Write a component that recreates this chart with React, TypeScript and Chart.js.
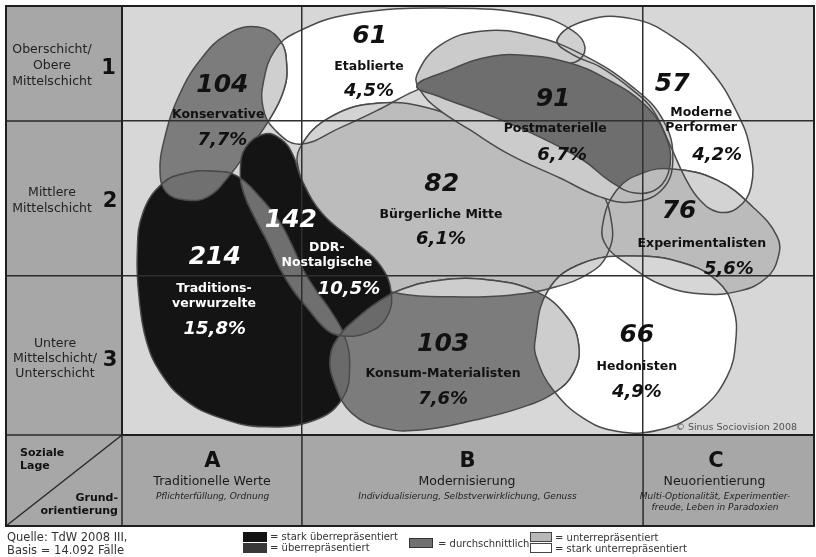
import React, { useEffect, useRef } from 'react';
import { Chart, registerables, LineController } from 'chart.js';

type Pt = [number, number];

// ---------- axes: Soziale Lage (y) / Grundorientierung (x) ----------
const xColumnBounds = [0, 26.0, 75.3, 100];
const yRowBounds = [0, 37.1, 73.2, 100];

const socialClassLabels = [
  ['Oberschicht/', 'Obere', 'Mittelschicht'],
  ['Mittlere', 'Mittelschicht'],
  ['Untere', 'Mittelschicht/', 'Unterschicht'],
];
const socialClassNumbers = ['1', '2', '3'];
const orientationLetters = ['A', 'B', 'C'];
const orientationTitles = ['Traditionelle Werte', 'Modernisierung', 'Neuorientierung'];
const orientationSubtitles = [
  ['Pflichterfüllung, Ordnung'],
  ['Individualisierung, Selbstverwirklichung, Genuss'],
  ['Multi-Optionalität, Experimentier-', 'freude, Leben in Paradoxien'],
];
const cornerLabels = { top: ['Soziale', 'Lage'], bottom: ['Grund-', 'orientierung'] };
const sourceNote = ['Quelle: TdW 2008 III,', 'Basis = 14.092 Fälle'];
const legendLabels = ['= stark überrepräsentiert', '= überrepräsentiert', '= durchschnittlich', '= unterrepräsentiert', '= stark unterrepräsentiert'];
const copyright = '© Sinus Sociovision 2008';

// ---------- milieu labels ----------
const milieuNames = ['Konservative', 'Etablierte', 'Postmaterielle', 'Moderne\nPerformer', 'Bürgerliche Mitte', 'Experimentalisten', 'DDR-\nNostalgische', 'Traditions-\nverwurzelte', 'Konsum-Materialisten', 'Hedonisten'];
const milieuCounts = [104, 61, 91, 57, 82, 76, 142, 214, 103, 66];
const milieuShares = ['7,7%', '4,5%', '6,7%', '4,2%', '6,1%', '5,6%', '10,5%', '15,8%', '7,6%', '4,9%'];
const countPositions: Pt[] = [[14.5, 81.4], [35.8, 92.8], [62.3, 78.1], [79.5, 81.6], [46.2, 58.5], [80.5, 52.0], [24.4, 50.1], [13.4, 41.3], [46.4, 21.2], [74.4, 23.3]];
const namePositions: Pt[] = [[13.9, 74.6], [35.7, 85.8], [62.6, 71.3], [83.7, 73.3], [46.1, 51.3], [83.8, 44.5], [29.6, 42.0], [13.3, 32.3], [46.4, 14.2], [74.4, 15.9]];
const sharePositions: Pt[] = [[14.5, 68.8], [35.7, 80.0], [63.6, 65.3], [86.0, 65.3], [46.1, 45.5], [87.7, 38.7], [32.8, 34.0], [13.4, 24.7], [46.4, 8.4], [74.4, 10.0]];
const whiteLabel = [false, false, false, false, false, false, true, true, false, false];

// ---------- milieu outlines (x: Grundorientierung 0-100, y: Soziale Lage 0-100) ----------
const etablierteShape: Pt[] = [[20.5, 82.8], [22.1, 89.7], [25.0, 93.7], [32.9, 98.1], [47.4, 99.5], [59.4, 97.9], [65.0, 94.4], [66.9, 90.4], [65.5, 86.9], [60.4, 86.9], [52.2, 85.8], [42.6, 80.4], [37.3, 76.0], [31.5, 71.6], [25.7, 67.8], [22.1, 71.1], [20.4, 76.2]];
const modernePerformerShape: Pt[] = [[62.9, 92.1], [67.2, 96.7], [73.8, 97.0], [79.6, 92.8], [85.0, 85.1], [88.9, 75.1], [90.8, 66.4], [90.9, 57.8], [88.9, 52.9], [86.1, 52.0], [83.5, 54.8], [81.4, 59.9], [79.2, 67.6], [76.7, 75.8], [73.8, 80.4], [69.1, 85.8], [65.2, 88.6]];
const buergerlicheMitteShape: Pt[] = [[25.7, 66.9], [30.1, 74.1], [37.3, 77.4], [45.2, 75.8], [52.5, 70.4], [61.1, 63.4], [68.6, 57.6], [70.8, 49.0], [70.1, 42.0], [67.6, 37.8], [62.6, 34.5], [56.1, 32.6], [48.1, 32.2], [40.2, 32.9], [36.6, 35.4], [31.5, 43.1], [27.5, 53.6], [25.6, 61.3]];
const postmaterielleHaloShape: Pt[] = [[42.6, 83.9], [46.0, 90.9], [52.2, 94.2], [59.4, 93.0], [66.6, 88.6], [73.8, 81.1], [78.2, 73.4], [79.6, 64.1], [78.0, 57.1], [73.7, 54.3], [69.1, 55.5], [63.3, 59.9], [56.1, 65.3], [50.3, 71.1], [45.5, 76.2], [43.1, 80.4]];
const postmaterielleShape: Pt[] = [[42.6, 81.4], [47.4, 85.1], [52.2, 87.9], [57.5, 88.6], [64.3, 86.9], [69.8, 83.2], [75.6, 76.9], [78.5, 69.9], [79.2, 62.9], [77.5, 57.6], [74.1, 56.4], [70.5, 59.2], [66.6, 64.1], [59.4, 70.2], [52.2, 75.1], [46.0, 78.8]];
const experimentalistenShape: Pt[] = [[69.4, 48.5], [71.5, 57.1], [75.3, 61.1], [79.6, 62.0], [86.0, 59.4], [91.2, 53.1], [94.7, 46.2], [94.8, 41.3], [93.1, 36.6], [89.3, 33.6], [83.5, 32.9], [77.7, 35.2], [73.0, 39.9], [70.1, 43.8]];
const hedonistenShape: Pt[] = [[59.7, 22.1], [61.6, 33.8], [66.6, 40.1], [73.8, 41.7], [81.1, 40.1], [86.0, 35.9], [88.3, 29.8], [88.7, 22.1], [87.4, 13.5], [83.5, 5.8], [77.7, 1.2], [71.5, 0.9], [66.6, 4.0], [62.3, 10.5], [60.0, 17.5]];
const konservativeShape: Pt[] = [[19.7, 95.1], [22.8, 92.1], [23.8, 86.2], [23.3, 80.0], [21.1, 73.0], [18.2, 66.4], [15.6, 60.6], [12.4, 55.5], [9.1, 54.8], [6.4, 56.6], [5.5, 61.3], [6.1, 68.8], [8.1, 78.6], [11.3, 87.4], [15.3, 93.5]];
const traditionsShape: Pt[] = [[5.9, 58.7], [9.4, 61.1], [13.2, 61.5], [16.6, 60.4], [20.2, 55.0], [22.8, 49.7], [24.7, 43.8], [26.2, 38.5], [28.0, 33.8], [30.1, 29.1], [32.1, 23.3], [32.9, 16.3], [31.9, 8.6], [27.9, 3.5], [20.7, 1.9], [14.2, 4.0], [9.1, 8.2], [5.5, 14.7], [3.5, 22.1], [2.5, 31.5], [2.2, 42.0], [3.0, 51.7]];
const ddrShape: Pt[] = [[20.7, 70.2], [23.1, 68.8], [24.7, 65.3], [26.0, 59.4], [28.9, 51.7], [33.7, 45.0], [37.3, 39.6], [38.9, 33.3], [38.2, 27.3], [35.4, 23.8], [31.9, 23.1], [29.6, 24.5], [26.7, 29.8], [24.7, 33.8], [22.8, 38.9], [21.1, 44.8], [19.2, 50.6], [17.6, 56.4], [17.1, 61.8], [17.9, 67.1]];
const konsumShape: Pt[] = [[36.8, 30.8], [40.2, 33.8], [46.0, 36.1], [53.2, 36.1], [60.0, 33.3], [64.3, 27.5], [66.0, 21.0], [65.3, 14.7], [62.6, 10.0], [57.9, 6.5], [51.0, 3.5], [43.5, 1.2], [37.7, 1.6], [33.2, 5.1], [30.8, 11.7], [30.1, 18.2], [31.5, 23.3], [34.0, 27.3]];

// drawing layers, bottom to top
const layers = [
  { key: 'etablierte', data: etablierteShape, color: '#ffffff' },
  { key: 'modernePerformer', data: modernePerformerShape, color: '#ffffff' },
  { key: 'buergerlicheMitte', data: buergerlicheMitteShape, color: '#bcbcbc' },
  { key: 'postmaterielleHalo', data: postmaterielleHaloShape, color: '#cbcbcb' },
  { key: 'postmaterielle', data: postmaterielleShape, color: '#6e6e6e' },
  { key: 'experimentalisten', data: experimentalistenShape, color: '#bbbbbb' },
  { key: 'hedonisten', data: hedonistenShape, color: '#ffffff' },
  { key: 'konservative', data: konservativeShape, color: '#7c7c7c' },
  { key: 'traditionsverwurzelte', data: traditionsShape, color: '#141414' },
  { key: 'ddrNostalgische', data: ddrShape, color: '#141414' },
  { key: 'konsumMaterialisten', data: konsumShape, color: '#7c7c7c' },
];

// [lower, upper, colour of the overlapping region]
const overlaps: [string, string, string][] = [
  ['etablierte', 'modernePerformer', '#d0d0d0'],
  ['etablierte', 'buergerlicheMitte', '#d3d3d3'],
  ['modernePerformer', 'experimentalisten', '#d3d3d3'],
  ['buergerlicheMitte', 'hedonisten', '#d3d3d3'],
  ['experimentalisten', 'hedonisten', '#d6d6d6'],
  ['etablierte', 'konservative', '#cfcfcf'],
  ['konservative', 'traditionsverwurzelte', '#707070'],
  ['traditionsverwurzelte', 'ddrNostalgische', '#6f6f6f'],
  ['buergerlicheMitte', 'konsumMaterialisten', '#cdcdcd'],
  ['hedonisten', 'konsumMaterialisten', '#cdcdcd'],
  ['traditionsverwurzelte', 'konsumMaterialisten', '#6a6a6a'],
  ['ddrNostalgische', 'konsumMaterialisten', '#6a6a6a'],
];
// outlines of lower shapes that stay visible inside upper shapes
const showThrough: [string, string][] = [
  ['etablierte', 'postmaterielleHalo'],
  ['modernePerformer', 'postmaterielleHalo'],
  ['modernePerformer', 'postmaterielle'],
  ['buergerlicheMitte', 'experimentalisten'],
  ['postmaterielleHalo', 'experimentalisten'],
  ['postmaterielle', 'experimentalisten'],
];

const OUTLINE = '#4a4a4a';
const FONT = '"DejaVu Sans", Verdana, sans-serif';
const FRAME_LEFT = 6;
const FRAME_BOTTOM = 526;

class LoopLineController extends LineController {
  static id = 'loopLine';
  update(mode: any) {
    super.update(mode);
    const line: any = (this as any)._cachedMeta.dataset;
    if (line) {
      line._loop = true;
      line._fullLoop = true;
      line._pointsUpdated = false;
      delete line._segments;
      delete line._path;
    }
  }
}

Chart.register(...registerables, LoopLineController as any);

const keyIndex = (k: string) => layers.findIndex((l) => l.key === k);

function shapePath(chart: any, idx: number): Path2D {
  const meta = chart.getDatasetMeta(idx);
  const p = new Path2D();
  meta.dataset.updateControlPoints(chart.chartArea, 'x');
  meta.dataset.path(p);
  p.closePath();
  return p;
}

const overlapPlugin = {
  id: 'overlaps',
  afterDatasetDraw(chart: any, args: any) {
    const upperKey = layers[args.index].key;
    const ctx: CanvasRenderingContext2D = chart.ctx;
    ctx.save();
    ctx.lineWidth = 1.5;
    ctx.strokeStyle = OUTLINE;
    ctx.lineJoin = 'round';
    for (const [lowerKey, uKey, color] of overlaps) {
      if (uKey !== upperKey) continue;
      const pl = shapePath(chart, keyIndex(lowerKey));
      const pu = shapePath(chart, args.index);
      ctx.save();
      ctx.clip(pl);
      ctx.fillStyle = color;
      ctx.fill(pu);
      ctx.stroke(pu);
      ctx.restore();
      ctx.save();
      ctx.clip(pu);
      ctx.stroke(pl);
      ctx.restore();
    }
    for (const [lowerKey, uKey] of showThrough) {
      if (uKey !== upperKey) continue;
      const pl = shapePath(chart, keyIndex(lowerKey));
      const pu = shapePath(chart, args.index);
      ctx.save();
      ctx.clip(pu);
      ctx.stroke(pl);
      ctx.restore();
    }
    ctx.restore();
  },
};

const framePlugin = {
  id: 'frame',
  beforeDraw(chart: any) {
    const { ctx, chartArea: a } = chart;
    ctx.save();
    ctx.fillStyle = '#ffffff';
    ctx.fillRect(0, 0, chart.width, chart.height);
    ctx.fillStyle = '#d7d7d7';
    ctx.fillRect(a.left, a.top, a.right - a.left, a.bottom - a.top);
    ctx.fillStyle = '#a7a7a7';
    ctx.fillRect(FRAME_LEFT, a.top, a.left - FRAME_LEFT, a.bottom - a.top);
    ctx.fillRect(FRAME_LEFT, a.bottom, a.right - FRAME_LEFT, FRAME_BOTTOM - a.bottom);
    ctx.restore();
  },
  afterDraw(chart: any) {
    const { ctx, chartArea: a, scales } = chart;
    ctx.save();
    ctx.strokeStyle = '#2a2a2a';
    ctx.lineWidth = 1.5;
    ctx.beginPath();
    for (const v of yRowBounds.slice(1, -1)) {
      const y = scales.y.getPixelForValue(v);
      ctx.moveTo(FRAME_LEFT, y);
      ctx.lineTo(a.left, y);
    }
    for (const v of xColumnBounds.slice(0, -1)) {
      const x = scales.x.getPixelForValue(v);
      ctx.moveTo(x, a.bottom);
      ctx.lineTo(x, FRAME_BOTTOM);
    }
    ctx.moveTo(FRAME_LEFT, a.bottom);
    ctx.lineTo(a.left, a.bottom);
    ctx.moveTo(FRAME_LEFT, FRAME_BOTTOM);
    ctx.lineTo(a.left, a.bottom);
    ctx.stroke();
    ctx.strokeStyle = '#1e1e1e';
    ctx.lineWidth = 2;
    ctx.strokeRect(FRAME_LEFT, a.top, a.right - FRAME_LEFT, FRAME_BOTTOM - a.top);
    ctx.restore();

    // milieu labels
    ctx.save();
    ctx.textAlign = 'center';
    ctx.textBaseline = 'middle';
    milieuNames.forEach((name, i) => {
      ctx.fillStyle = whiteLabel[i] ? '#ffffff' : '#111111';
      const sx = (p: Pt) => scales.x.getPixelForValue(p[0]);
      const sy = (p: Pt) => scales.y.getPixelForValue(p[1]);
      ctx.font = `italic bold 25px ${FONT}`;
      ctx.fillText(String(milieuCounts[i]), sx(countPositions[i]), sy(countPositions[i]));
      ctx.font = `bold 12.5px ${FONT}`;
      const lines = name.split('\n');
      const lh = 15;
      lines.forEach((ln, j) => {
        ctx.fillText(ln, sx(namePositions[i]), sy(namePositions[i]) + (j - (lines.length - 1) / 2) * lh);
      });
      ctx.font = `italic bold 18px ${FONT}`;
      ctx.fillText(milieuShares[i], sx(sharePositions[i]), sy(sharePositions[i]));
    });
    ctx.restore();
  },
};

function Txt(props: any) {
  const { x, y, size, children, weight = 400, italic = false, align = 'center', color = '#1e1e1e' } = props;
  const style: any = {
    position: 'absolute',
    top: y - 0.846 * size,
    fontSize: size,
    lineHeight: `${size}px`,
    fontWeight: weight,
    fontStyle: italic ? 'italic' : 'normal',
    color,
    whiteSpace: 'nowrap',
    fontFamily: FONT,
  };
  if (align === 'center') { style.left = x - 250; style.width = 500; style.textAlign = 'center'; }
  else if (align === 'right') { style.left = x - 500; style.width = 500; style.textAlign = 'right'; }
  else { style.left = x; }
  return <div style={style}>{children}</div>;
}

function Swatch({ x, y, w, h, bg, border }: any) {
  return <div style={{ position: 'absolute', left: x, top: y, width: w, height: h, background: bg, border: border ? `1px solid ${border}` : 'none', boxSizing: 'border-box' }} />;
}

export default function App() {
  const ref = useRef<HTMLCanvasElement | null>(null);

  useEffect(() => {
    if (!ref.current) return;
    const axisCommon = (bounds: number[]) => ({
      type: 'linear',
      min: 0,
      max: 100,
      ticks: { display: false },
      grid: { color: '#2f2f2f', lineWidth: 1.5, drawTicks: false, z: 1 },
      border: { display: true, color: '#1e1e1e', width: 2, z: 2 },
      afterBuildTicks: (s: any) => { s.ticks = bounds.map((v) => ({ value: v })); },
    });
    const chart = new Chart(ref.current, {
      type: 'loopLine' as any,
      data: {
        datasets: layers.map((l, i) => ({
          label: l.key,
          data: l.data.map(([x, y]) => ({ x, y })),
          backgroundColor: l.color,
          borderColor: OUTLINE,
          borderWidth: 1.5,
          borderJoinStyle: 'round',
          fill: 'shape',
          tension: 0.42,
          pointRadius: 0,
          pointHoverRadius: 0,
          order: layers.length - i,
        })) as any,
      },
      options: {
        responsive: false,
        animation: false,
        devicePixelRatio: 1,
        events: [],
        layout: { padding: { left: 122, top: 6, right: 2, bottom: 122 } },
        plugins: { legend: { display: false }, tooltip: { enabled: false }, filler: { propagate: false } } as any,
        scales: { x: axisCommon(xColumnBounds) as any, y: axisCommon(yRowBounds) as any },
      },
      plugins: [framePlugin, overlapPlugin] as any,
    });
    return () => chart.destroy();
  }, []);

  const rowBaselines = [[54, 70, 86], [197, 213], [348, 363, 378]];
  const rowCenters = [52, 52, 55];
  const numberPos = [[108.5, 75], [110, 208], [110, 367]];
  const colCenters = [212.5, 467.5, 715];

  return (
    <div style={{ position: 'absolute', left: 0, top: 0, width: 816, height: 557, background: '#fff', overflow: 'hidden', fontFamily: FONT }}>
      <canvas ref={ref} width={816} height={557} style={{ position: 'absolute', left: 0, top: 0, width: 816, height: 557 }} />

      {socialClassLabels.map((lines, r) => (
        <React.Fragment key={'r' + r}>
          {lines.map((ln, j) => (
            <Txt key={j} x={rowCenters[r]} y={rowBaselines[r][j]} size={12.5} color="#222">{ln}</Txt>
          ))}
          <Txt x={numberPos[r][0]} y={numberPos[r][1]} size={21} weight={700} color="#111">{socialClassNumbers[r]}</Txt>
        </React.Fragment>
      ))}

      <Txt x={20} y={456.5} size={11} weight={700} align="left" color="#111">{cornerLabels.top[0]}</Txt>
      <Txt x={20} y={469} size={11} weight={700} align="left" color="#111">{cornerLabels.top[1]}</Txt>
      <Txt x={118} y={501} size={11} weight={700} align="right" color="#111">{cornerLabels.bottom[0]}</Txt>
      <Txt x={118} y={514.5} size={11} weight={700} align="right" color="#111">{cornerLabels.bottom[1]}</Txt>

      {orientationLetters.map((L, c) => (
        <React.Fragment key={'c' + c}>
          <Txt x={colCenters[c] + (c === 2 ? 1 : 0)} y={467.5} size={21} weight={700} color="#111">{L}</Txt>
          <Txt x={colCenters[c] - 0.5} y={486} size={12.5} color="#1a1a1a">{orientationTitles[c]}</Txt>
          {orientationSubtitles[c].map((s, j) => (
            <Txt key={j} x={colCenters[c]} y={500 + j * 10.5} size={9} italic color="#222">{s}</Txt>
          ))}
        </React.Fragment>
      ))}

      <Txt x={797} y={430} size={9.5} align="right" color="#505050">{copyright}</Txt>

      <Txt x={7} y={541.5} size={11.5} align="left" color="#333">{sourceNote[0]}</Txt>
      <Txt x={7} y={555} size={11.5} align="left" color="#333">{sourceNote[1]}</Txt>

      <Swatch x={243} y={531.5} w={24} h={10.5} bg="#111" />
      <Swatch x={243} y={543} w={24} h={10} bg="#383838" />
      <Txt x={270} y={540.5} size={10} align="left" color="#333">{legendLabels[0]}</Txt>
      <Txt x={270} y={551.5} size={10} align="left" color="#333">{legendLabels[1]}</Txt>

      <Swatch x={409} y={538} w={24} h={10} bg="#707070" border="#333" />
      <Txt x={438} y={547} size={10} align="left" color="#333">{legendLabels[2]}</Txt>

      <Swatch x={530} y={532} w={22} h={10} bg="#b8b8b8" border="#444" />
      <Swatch x={530} y={543} w={22} h={10} bg="#ffffff" border="#444" />
      <Txt x={555} y={541} size={10} align="left" color="#333">{legendLabels[3]}</Txt>
      <Txt x={555} y={552} size={10} align="left" color="#333">{legendLabels[4]}</Txt>
    </div>
  );
}
